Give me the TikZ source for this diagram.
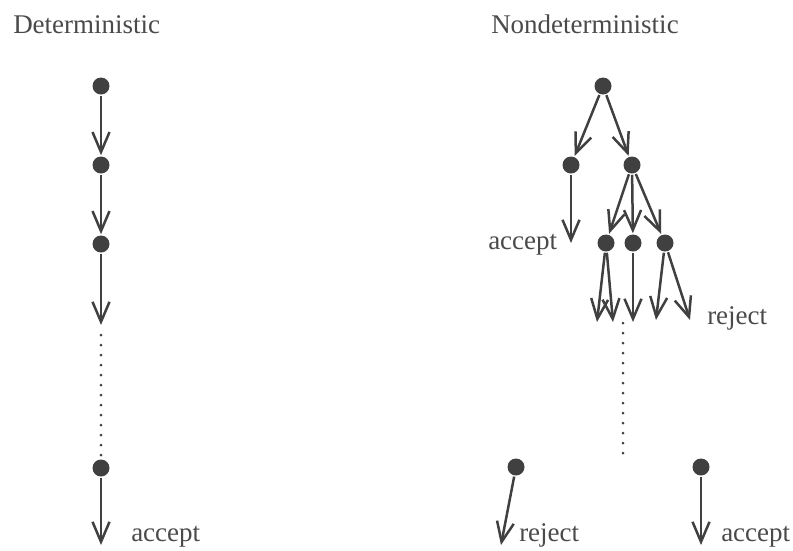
\documentclass[tikz,border=0pt]{standalone}
\usepackage{fontspec}
\setmainfont{Liberation Serif}
\usetikzlibrary{arrows.meta}

\definecolor{dotgray}{HTML}{404040}
\definecolor{textgray}{HTML}{4a4a4a}

\begin{document}
\begin{tikzpicture}[x=1pt, y=-1pt, line width=2.5pt,
    state/.style={circle, fill=dotgray, inner sep=0pt, minimum size=17pt},
    move/.style={draw=dotgray, line width=2.5pt, -{Straight Barb[length=20pt, width=17pt]}},
    dots/.style={draw=dotgray, line width=3pt, line cap=round, dash pattern=on 0pt off 10pt},
    lbl/.style={anchor=base west, inner sep=0pt, text=textgray, font=\fontsize{27}{30}\selectfont}]
\useasboundingbox (0,0) rectangle (793,550);

%\draw (0,0) rectangle (793,550);

\node[lbl] (dettitle) at (12,33) {Deterministic};
\node[lbl] (ndtitle) at (490,33) {Nondeterministic};

% deterministic run
\begin{scope}
    \node[state] (d1) at (101,86) {};
    \node[state] (d2) at (101,165) {};
    \node[state] (d3) at (101,244) {};
    \node[state] (d4) at (101,468) {};
    \coordinate (d3end) at (101,325);
    \coordinate (d4end) at (101,545);
    \draw[move] (d1) -- (d2);
    \draw[move] (d2) -- (d3);
    \draw[move] (d3) -- (d3end);
    \draw[dots, shorten <=10pt] (d3end) -- (d4);
    \draw[move] (d4) -- (d4end);
    \node[lbl] (detacc) at (130,541) {accept};
\end{scope}

% nondeterministic tree
\begin{scope}
    \node[state] (n0) at (603,86) {};
    \node[state] (n1) at (571,165) {};
    \node[state] (n2) at (632,165) {};
    \node[state] (n3) at (606,243) {};
    \node[state] (n4) at (633,243) {};
    \node[state] (n5) at (665,243) {};
    \coordinate (n1end) at (571,243);
    \coordinate (n3a) at (597,322);
    \coordinate (n3b) at (613,322);
    \coordinate (n4a) at (633,322);
    \coordinate (n5a) at (656,320);
    \coordinate (n5b) at (690,320);
    \foreach \a/\b in {n0/n1, n0/n2, n1/n1end, n2/n3, n2/n4, n2/n5,
                       n3/n3a, n3/n3b, n4/n4a, n5/n5a, n5/n5b}
        \draw[move] (\a) -- (\b);
    \node[lbl] (ndacc) at (487,249) {accept};
    \node[lbl] (ndrej) at (706,324) {reject};

    \draw[dots] (623,323) -- (623,461);

    \node[state] (b1) at (516,467) {};
    \node[state] (b2) at (701,467) {};
    \coordinate (b1end) at (501,545);
    \coordinate (b2end) at (701,545);
    \draw[move] (b1) -- (b1end);
    \draw[move] (b2) -- (b2end);
    \node[lbl] (botrej) at (518,541) {reject};
    \node[lbl] (botacc) at (720,541) {accept};
\end{scope}
\end{tikzpicture}
\end{document}
